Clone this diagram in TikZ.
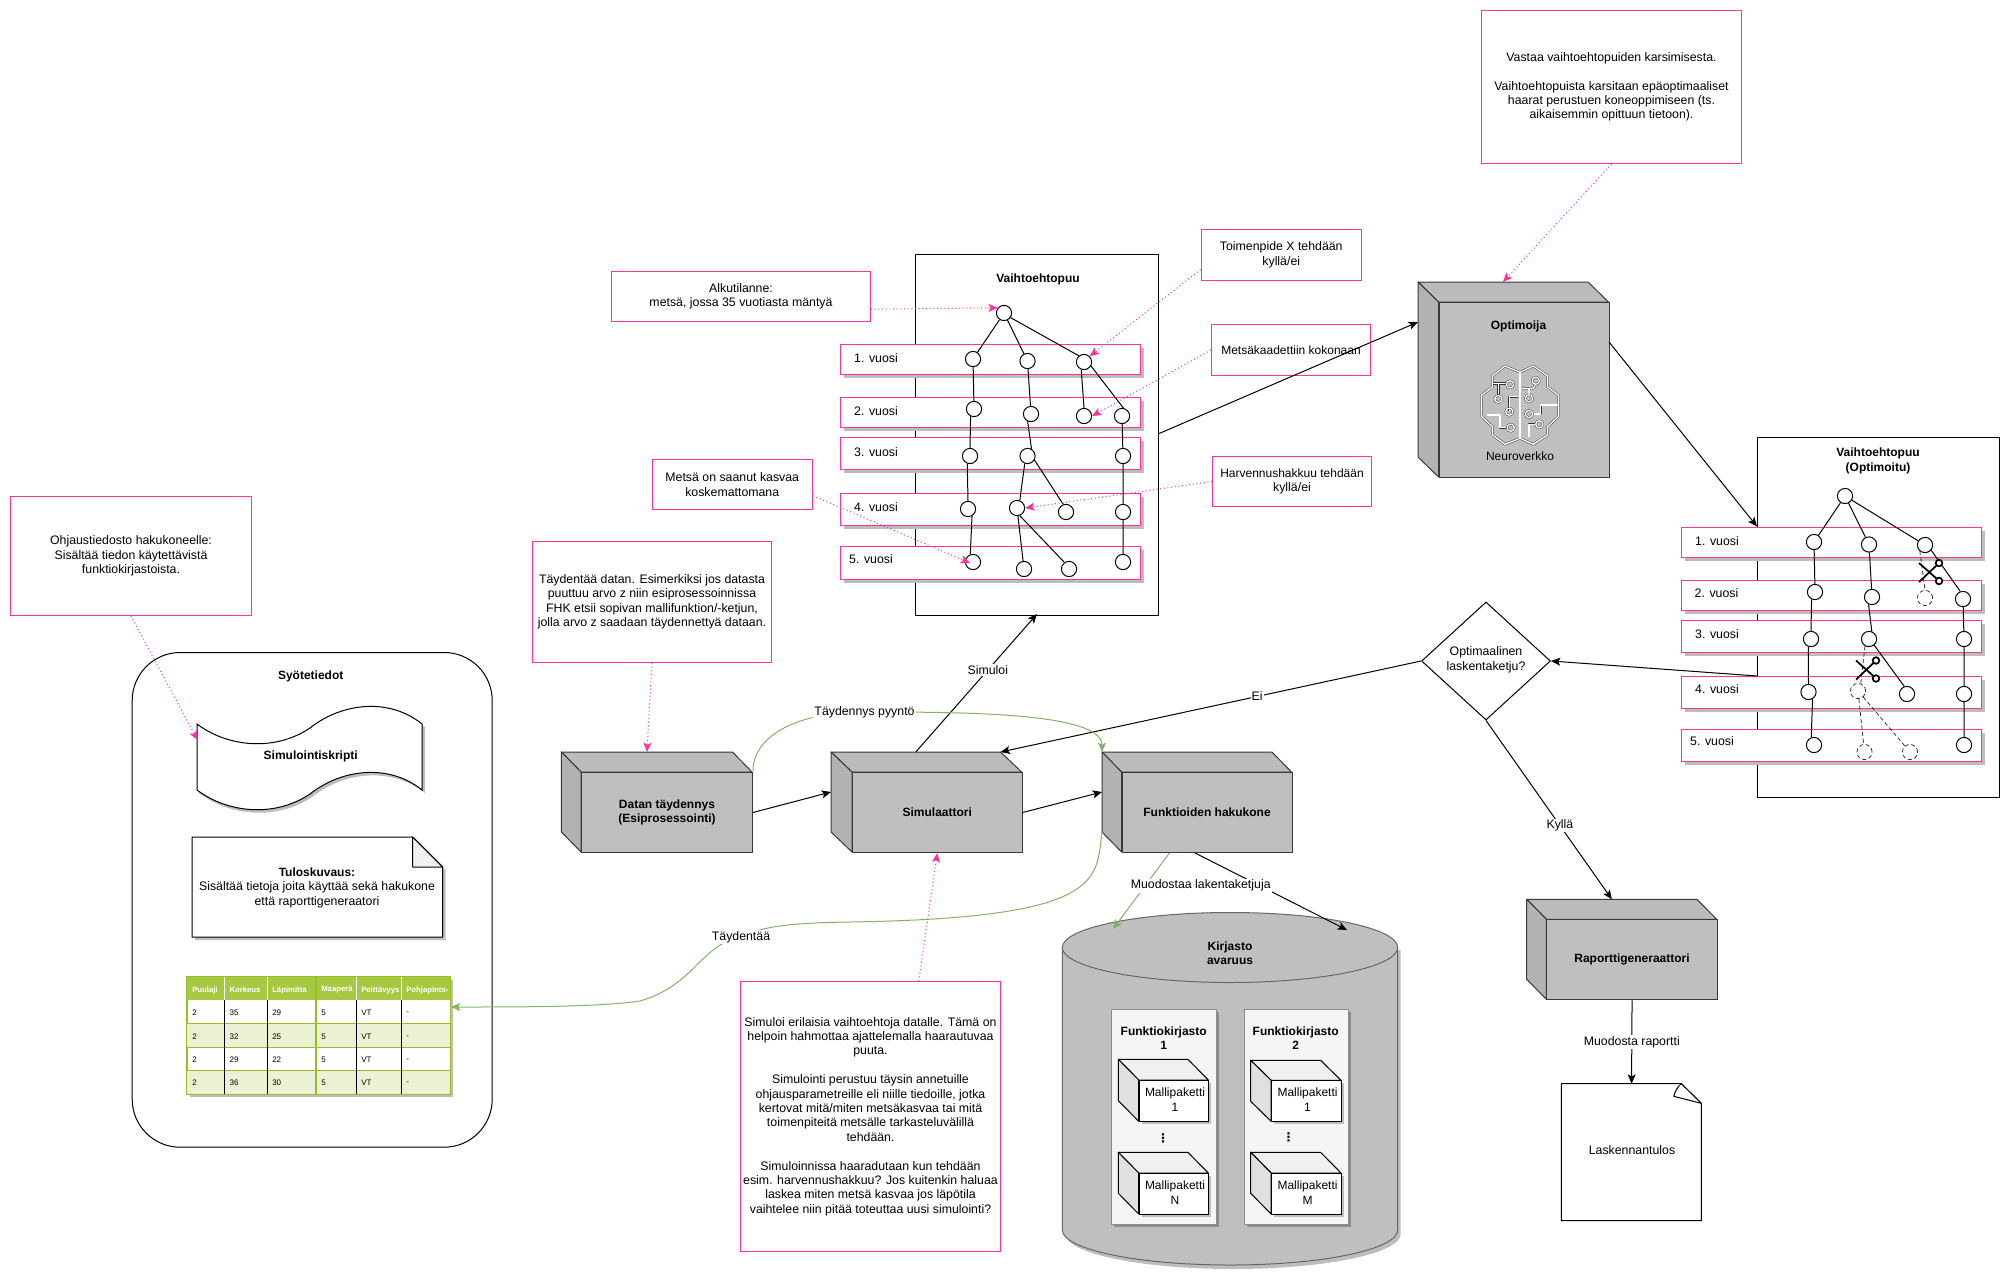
\documentclass[tikz,border=0pt]{standalone}
\usepackage{fontspec}
\setmainfont{Liberation Sans}
\usetikzlibrary{arrows.meta,shadows,calc,shapes.geometric}
\definecolor{pinkline}{HTML}{FF3399}
\definecolor{greenline}{HTML}{82B366}
\definecolor{shadowgray}{HTML}{BDBDBD}
\definecolor{cubefront}{gray}{.75}
\definecolor{cubetopc}{gray}{.735}
\definecolor{cubesidec}{gray}{.70}
\definecolor{cubeline}{HTML}{36393D}
\definecolor{tablehead}{HTML}{A7C942}
\definecolor{tableline}{HTML}{98BF21}
\definecolor{tablealt}{HTML}{EAF2D3}
\tikzset{
  txt/.style={font=\fontsize{9.25}{10.8}\selectfont,align=center,inner sep=0pt,text=black},
  btxt/.style={txt,font=\fontsize{9}{10.8}\selectfont\bfseries},
  note/.style={txt,draw=pinkline,fill=white,line width=.75pt},
  band/.style={draw=pinkline,fill=white,line width=.9pt,general shadow={fill=shadowgray,shadow xshift=2.4pt,shadow yshift=-2.4pt}},
  frame/.style={draw=black,fill=white,line width=.75pt},
  tn/.style={circle,draw=black,fill=white,line width=.75pt,minimum size=11.4pt,inner sep=0pt},
  dn/.style={tn,densely dashed,draw=black!85,line width=.55pt},
  edge/.style={draw=black,line width=.75pt},
  dedge/.style={draw=black!85,line width=.55pt,densely dashed},
  conn/.style={draw=black,line width=.75pt,-{Stealth[length=7pt,width=6pt,inset=1.6pt]}},
  gconn/.style={draw=greenline,line width=.75pt,-{Stealth[length=7pt,width=6pt,inset=1.6pt]}},
  pconn/.style={draw=pinkline,line width=.75pt,dotted,-{Stealth[length=7pt,width=6pt,inset=1.6pt]}},
  elabel/.style={txt,fill=white,inner sep=.8pt},
  cell/.style={font=\fontsize{6}{7}\selectfont,inner sep=0pt,anchor=west,text=black},
  head/.style={font=\fontsize{5.8}{7}\selectfont\bfseries,inner sep=0pt,anchor=west,text=white},
  brainline/.style={draw=black!80,line width=.35pt,double=white,double distance=1pt,line join=round},
}
\newcommand{\mkcube}[8]{%
  % #1 name, #2 x1, #3 y1, #4 x2, #5 y2, #6 dx, #7 dy, #8 text
  \filldraw[draw=cubeline,fill=cubetopc,line width=.75pt,line join=round] (#2,#3) -- ({#4-#6},#3) -- (#4,{#3+#7}) -- ({#2+#6},{#3+#7}) -- cycle;
  \filldraw[draw=cubeline,fill=cubesidec,line width=.75pt,line join=round] (#2,#3) -- ({#2+#6},{#3+#7}) -- ({#2+#6},#5) -- (#2,{#5-#7}) -- cycle;
  \node[btxt,draw=cubeline,fill=cubefront,line width=.75pt,minimum width={(#4-#2-#6)*.75pt},minimum height={(#5-#3-#7)*.75pt},anchor=north west] (#1) at ({#2+#6},{#3+#7}) {#8};
  \coordinate (#1-w) at (#2,{(#3+#5-#7)/2});
  \coordinate (#1-t) at ({(#2+#4-#6)/2},#3);
  \coordinate (#1-tl) at (#2,#3);
  \coordinate (#1-tr) at ({#4-#6},#3);
  \coordinate (#1-bl) at (#2,{#5-#7});
}
\newcommand{\mksmall}[8]{%
  \filldraw[draw=black,fill=white!94!black,line width=.75pt,line join=round] (#2,#3) -- ({#4-#6},#3) -- (#4,{#3+#7}) -- ({#2+#6},{#3+#7}) -- cycle;
  \filldraw[draw=black,fill=white!88!black,line width=.75pt,line join=round] (#2,#3) -- ({#2+#6},{#3+#7}) -- ({#2+#6},#5) -- (#2,{#5-#7}) -- cycle;
  \node[draw=black,fill=white,line width=.75pt,general shadow={fill=shadowgray,shadow xshift=1.8pt,shadow yshift=-1.8pt},minimum width={(#4-#2-#6)*.75pt},minimum height={(#5-#3-#7)*.75pt},inner sep=0pt,anchor=north west] (#1) at ({#2+#6},{#3+#7}) {};
  \node[txt,font=\fontsize{9}{10.8}\selectfont] (#1-text) at ($(#1.center)+(1,-1.5)$) {#8};
}
\newcommand{\scissorsicon}[2]{%
  \begin{scope}[shift={(#1,#2)}]
    \draw[black,line width=1.3pt] (-11,-9) -- (7,7);
    \draw[black,line width=1.3pt] (-11,10) -- (7,-7);
    \draw[black,line width=1.3pt,fill=white] (9,-9) circle[radius=3.3];
    \draw[black,line width=1.3pt,fill=white] (9,9) circle[radius=3.3];
  \end{scope}
}
\begin{document}
\begin{tikzpicture}[x=.75pt,y=-.75pt]
\useasboundingbox (0,0) rectangle (2009,1281);

% ---- Notes -----
\newcommand{\notebox}[6]{\node[note,minimum width={(#4-#2)*.75pt},minimum height={(#5-#3)*.75pt},anchor=north west] (#1) at (#2,#3) {#6};}
\notebox{vastaa}{1481}{10}{1741}{163}{Vastaa vaihtoehtopuiden karsimisesta.\\[10.8pt]Vaihtoehtopuista karsitaan epäoptimaaliset\\haarat perustuen koneoppimiseen (ts.\\aikaisemmin opittuun tietoon).}
\notebox{alku}{611}{271}{870}{321}{Alkutilanne:\\metsä, jossa 35 vuotiasta mäntyä}
\notebox{toimenpide}{1200.5}{229}{1361}{280}{Toimenpide X tehdään\\kyllä/ei}
\notebox{kaadettu}{1211}{324}{1370}{375}{\fontsize{9}{10.8}\selectfont Metsäkaadettiin kokonaan}
\notebox{harvennus}{1212}{456}{1371}{506}{\fontsize{9}{10.8}\selectfont Harvennushakkuu tehdään\\kyllä/ei}
\notebox{koskematon}{651.5}{459}{812}{509}{Metsä on saanut kasvaa\\koskemattomana}
\notebox{taydentaa}{532}{541}{771}{662}{Täydentää datan. Esimerkiksi jos datasta\\puuttuu arvo z niin esiprosessoinnissa\\FHK etsii sopivan mallifunktion/-ketjun,\\jolla arvo z saadaan täydennettyä dataan.}
\notebox{ohjaus}{10}{496}{251}{615}{Ohjaustiedosto hakukoneelle:\\Sisältää tiedon käytettävistä\\funktiokirjastoista.}
\notebox{simuloi}{740}{981}{1000}{1251}{Simuloi erilaisia vaihtoehtoja datalle. Tämä on\\helpoin hahmottaa ajattelemalla haarautuvaa\\puuta.\\[10.8pt]Simulointi perustuu täysin annetuille\\ohjausparametreille eli niille tiedoille, jotka\\kertovat mitä/miten metsäkasvaa tai mitä\\toimenpiteitä metsälle tarkasteluvälillä\\tehdään.\\[10.8pt]Simuloinnissa haaradutaan kun tehdään\\esim. harvennushakkuu? Jos kuitenkin haluaa\\laskea miten metsä kasvaa jos läpötila\\vaihtelee niin pitää toteuttaa uusi simulointi?}

% ---- Vaihtoehtopuu -----
\node[frame,minimum width={243*.75pt},minimum height={361*.75pt},anchor=north west] (puu) at (915,254) {};
\node[btxt] (puut) at (1038,279) {Vaihtoehtopuu};
\newcommand{\yearband}[5]{%
  \node[band,minimum width={(#4)*.75pt},minimum height={(#3-#2)*.75pt},anchor=north west,inner sep=0pt] (#1) at (#5,#2) {};}
\yearband{ba}{344}{374}{300}{840}
\yearband{bb}{397}{427}{300}{840}
\yearband{bc}{437}{469}{300}{840}
\yearband{bd}{493}{525}{300}{840}
\yearband{be}{546}{579}{300}{840}
\node[txt] (la) at (876,358) {1. vuosi};
\node[txt] (lb) at (876,411) {2. vuosi};
\node[txt] (lc) at (876,452) {3. vuosi};
\node[txt] (ld) at (876,507) {4. vuosi};
\node[txt] (le) at (871,559) {5. vuosi};
% tree nodes
\node[tn] (r)  at (1004,313) {};
\node[tn] (a1) at (973,359) {};
\node[tn] (a2) at (1027.5,361) {};
\node[tn] (a3) at (1084,362) {};
\node[tn] (b1) at (974,409) {};
\node[tn] (b2) at (1031,414) {};
\node[tn] (b3) at (1084,416) {};
\node[tn] (b4) at (1122,416) {};
\node[tn] (c1) at (970,456) {};
\node[tn] (c2) at (1027.5,456) {};
\node[tn] (c4) at (1123,456) {};
\node[tn] (d1) at (968,509) {};
\node[tn] (d2) at (1017,508) {};
\node[tn] (d3) at (1066,512) {};
\node[tn] (d4) at (1123,512) {};
\node[tn] (e1) at (973,562) {};
\node[tn] (e2) at (1024,569) {};
\node[tn] (e3) at (1069,569) {};
\node[tn] (e4) at (1123,562) {};
\draw[edge] (r)--(a1) (r)--(a2) (r.-35)--(a3.130) (a1)--(b1) (a2)--(b2) (a3.250)--(b3.north) (a3.-30)--(b4.80)
  (b1.245)--(c1.north) (b2.245)--(c2.60) (b4)--(c4) (c1.250)--(d1.north) (c2.250)--(d2.70) (c2.-30)--(d3.110) (c4)--(d4)
  (d1.-60)--(e1.110) (d2)--(e2) (d2.-70)--(e3.125) (d4)--(e4);

% ---- Optimoitu puu -----
\node[frame,minimum width={241.5*.75pt},minimum height={360*.75pt},anchor=north west] (opu) at (1757,437) {};
\node[btxt] (oput) at (1878,461) {Vaihtoehtopuu\\(Optimoitu)};
\yearband{oa}{527}{557}{300}{1681}
\yearband{ob}{580}{610}{300}{1681}
\yearband{oc}{620}{652}{300}{1681}
\yearband{od}{676}{708}{300}{1681}
\yearband{oe}{729}{761}{300}{1681}
\node[txt] (ola) at (1717,541) {1. vuosi};
\node[txt] (olb) at (1716.5,593) {2. vuosi};
\node[txt] (olc) at (1717,634) {3. vuosi};
\node[txt] (old) at (1717,689) {4. vuosi};
\node[txt] (ole) at (1712,741) {5. vuosi};
\node[tn] (pr)  at (1845,496) {};
\node[tn] (pa1) at (1814,542) {};
\node[tn] (pa2) at (1869,544.5) {};
\node[tn] (pa3) at (1925,545) {};
\node[tn] (pb1) at (1815,592) {};
\node[tn] (pb2) at (1872,597) {};
\node[dn] (pb3) at (1925,598) {};
\node[tn] (pb4) at (1963,599) {};
\node[tn] (pc1) at (1811,639) {};
\node[tn] (pc2) at (1869,639) {};
\node[tn] (pc4) at (1964,639) {};
\node[tn] (pd1) at (1808.5,692) {};
\node[dn] (pd2) at (1858,691) {};
\node[tn] (pd3) at (1907,694) {};
\node[tn] (pd4) at (1964,694) {};
\node[tn] (pe1) at (1814,745) {};
\node[dn] (pe2) at (1864.5,752) {};
\node[dn] (pe3) at (1910,752) {};
\node[tn] (pe4) at (1964,745) {};
\draw[edge] (pr)--(pa1) (pr)--(pa2) (pr)--(pa3) (pa1)--(pb1) (pa2)--(pb2) (pa3.-40)--(pb4.110)
  (pb1.245)--(pc1.north) (pb2.245)--(pc2.70) (pb4)--(pc4) (pc1.250)--(pd1.north) (pc2.-50)--(pd3.110) (pc4)--(pd4)
  (pd1.-60)--(pe1.110) (pd4)--(pe4);
\draw[dedge] (pa3.230)--(pb3.north) (pc2.240)--(pd2.70) (pd2)--(pe2) (pd2)--(pe3);
\scissorsicon{1930}{572}
\scissorsicon{1867}{669.5}

% ---- Cubes -----
\mkcube{opt}{1418}{282}{1608.5}{477}{20.5}{20}{}
\node[btxt] (optt) at (1518.5,326.5) {Optimoija};
\node[txt,font=\fontsize{9}{10.8}\selectfont] (optn) at (1520,456) {Neuroverkko};
\begin{scope}[shift={(1520,405)}]
  \draw[brainline] (0,-32.7) -- (-15,-39) -- (-27.3,-29.3) -- (-27.3,-18.3) -- (-38.3,-10) -- (-38.3,11.7) -- (-27.3,21.7) -- (-27.3,30) -- (-15,39.3) -- (0,33.3) -- (13.3,39.3) -- (27.3,30) -- (27.3,21.7) -- (38.3,11.7) -- (38.3,-10) -- (27.3,-18.3) -- (27.3,-29.3) -- (13.3,-39) -- cycle;
  \draw[brainline] (0,-32.7) -- (0,33.3);
  \draw[brainline] (-27,-21.5) -- (-12,-21.5);
  \draw[brainline] (-21.5,-21.5) -- (-21.5,-10);
  \draw[brainline] (-10.7,6) -- (-10.7,-8.3) -- (-2,-8.3);
  \draw[brainline] (-33,10) -- (-20,10) -- (-20,22.7) -- (-12,22.7);
  \draw[brainline] (15.5,-20) -- (13.3,-16.7) -- (2,-16.7);
  \draw[brainline] (9,-16.7) -- (9,-10);
  \draw[brainline] (12,9) -- (20.7,9) -- (20.7,0) -- (37.5,0);
  \draw[brainline] (15,19.3) -- (9,19.3) -- (9,32);
  \foreach \cx/\cy in {-10/-20.7,-21.7/-6,-10.7/6.7,-9.3/22.7,15.7/-24.3,9/-6.7,9/9,19.3/19.3}
    \draw[brainline] (\cx,\cy) circle[radius=3.6];
\end{scope}

\mkcube{dat}{561.4}{752}{752}{852}{19.6}{20}{Datan täydennys\\(Esiprosessointi)}
\mkcube{sim}{831}{752}{1021.6}{852}{21}{20}{Simulaattori}
\mkcube{fun}{1102}{752}{1291.5}{852}{19.6}{20}{Funktioiden hakukone}
\mkcube{rap}{1526.7}{899.3}{1716.7}{999.3}{19.7}{20}{Raporttigeneraattori}

% ---- Diamond -----
\node[diamond,txt,draw=black,fill=white,line width=.75pt,minimum width={129*.75pt},minimum height={118*.75pt},inner sep=0pt,aspect=1.09] (dia) at (1486,661) {};
\node[txt] (diat) at (1486,660) {Optimaalinen\\laskentaketju?};

% ---- Document Laskennantulos -----
\filldraw[frame,line join=round] (1561.3,1083.7) -- (1681.3,1083.7) -- (1701.3,1103.3) -- (1701.3,1220.7) -- (1561.3,1220.7) -- cycle;
\filldraw[draw=black,fill=white,line width=.75pt,line join=round] (1681.3,1083.7) .. controls (1677,1087) and (1675,1092) .. (1673.7,1096.3) -- (1701.3,1103.3) -- cycle;
\node[txt] (las) at (1632,1150.3) {Laskennantulos};
\coordinate (lastop) at (1631.55,1083.7);

% ---- Library cylinder -----
\fill[shadowgray] (1065.3,950) -- (1400.7,950) -- (1400.7,1234) arc[start angle=360,end angle=180,x radius=167.7,y radius=-35] -- cycle;
\filldraw[fill=cubefront,draw=black!60,line width=.75pt] (1062.3,947.5) -- (1062.3,1230) arc[start angle=180,end angle=360,x radius=167.7,y radius=-35] -- (1397.7,947.5) arc[start angle=0,end angle=180,x radius=167.7,y radius=-35] -- cycle;
\draw[draw=black!60,line width=.75pt] (1062.3,947.5) arc[start angle=180,end angle=360,x radius=167.7,y radius=-35];
\node[btxt,minimum width={335*.75pt}] (kir) at (1230,953) {Kirjasto\\avaruus};

\node[draw=black!45,fill=white!96!black,line width=.75pt,general shadow={fill=black!45,shadow xshift=1.8pt,shadow yshift=-1.8pt},minimum width={104.4*.75pt},minimum height={215.3*.75pt},anchor=north west] (fk1) at (1111.3,1008.7) {};
\node[draw=black!45,fill=white!96!black,line width=.75pt,general shadow={fill=black!45,shadow xshift=1.8pt,shadow yshift=-1.8pt},minimum width={104.3*.75pt},minimum height={215.3*.75pt},anchor=north west] (fk2) at (1243.7,1008.7) {};
\node[btxt] (fk1t) at (1163.7,1038) {Funktiokirjasto\\1};
\node[btxt] (fk2t) at (1295.7,1038) {Funktiokirjasto\\2};
\mksmall{m11}{1118.3}{1059.3}{1208.3}{1121.3}{20.4}{20.7}{Mallipaketti\\1}
\mksmall{m1n}{1118.3}{1152.3}{1208.3}{1214}{20.4}{20.7}{Mallipaketti\\N}
\mksmall{m21}{1250.7}{1060.3}{1341}{1121.3}{20.4}{20}{Mallipaketti\\1}
\mksmall{m2m}{1250.7}{1152.3}{1341}{1214}{20.4}{20.7}{Mallipaketti\\M}
\node[font=\fontspec{DejaVu Sans}\fontsize{9}{10}\selectfont\bfseries,inner sep=0pt] (vd1) at (1163,1138) {⋮};
\node[font=\fontspec{DejaVu Sans}\fontsize{9}{10}\selectfont\bfseries,inner sep=0pt] (vd2) at (1288.7,1137) {⋮};

% ---- Syotetiedot -----
\node[draw=black,fill=white,line width=.75pt,rounded corners=36pt,minimum width={360*.75pt},minimum height={494.7*.75pt},anchor=north west] (syo) at (131.7,652) {};
\node[btxt] (syot) at (310.7,676.5) {Syötetiedot};
\fill[shadowgray] (199,727) .. controls (231,751) and (278,754) .. (312,731) .. controls (345,705) and (392,701) .. (425,727) -- (425,793) .. controls (392,767) and (345,771) .. (312,797) .. controls (278,820) and (231,817) .. (199,793) -- cycle;
\filldraw[frame] (197,724) .. controls (229,748) and (276,751) .. (310,728) .. controls (343,702) and (390,698) .. (422,724) -- (422,790) .. controls (390,764) and (343,768) .. (310,794) .. controls (276,817) and (229,814) .. (197,790) -- cycle;
\node[btxt] (skr) at (310.7,756.5) {Simulointiskripti};
\fill[shadowgray] (195,840) -- (415.7,840) -- (445.7,870) -- (445.7,940) -- (195,940) -- cycle;
\filldraw[frame,line join=round] (192,837) -- (412.7,837) -- (442.7,867) -- (442.7,937) -- (192,937) -- cycle;
\filldraw[draw=black,fill=white!94!black,line width=.75pt,line join=round] (412.7,837) -- (412.7,867) -- (442.7,867) -- cycle;
\node[txt,minimum width={250*.75pt},anchor=north] (tul) at (317,867.5) {\textbf{\fontsize{9}{10.8}\selectfont Tuloskuvaus:}\\Sisältää tietoja joita käyttää sekä hakukone\\että raporttigeneraatori};
% table
\node[fill=shadowgray,minimum width={263.3*.75pt},minimum height={117.3*.75pt},inner sep=0pt,anchor=north west] (tabs) at (189.7,979.7) {};
\node[fill=white,draw=tableline,line width=.7pt,minimum width={263.3*.75pt},minimum height={117.3*.75pt},inner sep=0pt,anchor=north west] (tab) at (186.7,976.7) {};
\fill[tablehead] (186.7,976.7) rectangle (450,1000.3);
\fill[tablealt] (186.7,1023.3) rectangle (450,1047.3);
\fill[tablealt] (186.7,1070.3) rectangle (450,1094);
\foreach \yy in {1023.3,1047.3,1070.3} \draw[tableline,line width=.6pt] (186.7,\yy)--(450,\yy);
\foreach \xx in {224.3,267.3,356.3,401.3} {\draw[white,line width=.6pt] (\xx,977)--(\xx,1000.3); \draw[black,line width=.6pt] (\xx,1000.3)--(\xx,1094);}
\draw[tableline,line width=.7pt] (186.7,976.7) rectangle (450,1094);
\draw[white,line width=.6pt] (315.8,977)--(315.8,1094);
\draw[tableline,line width=.6pt] (315,977)--(315,1094) (316.7,977)--(316.7,1094);
\foreach \xx/\tt in {192/Puulaji,229.3/Korkeus,272/Läpimitta,321/Maaperä,361/Peittävyys,406/Pohjapinta-} \node[head] at (\xx,990) {\tt};
\foreach \yy/\aa/\bb in {1013/35/29,1037/32/25,1060/29/22,1083/36/30} {
  \node[cell] at (192,\yy) {2}; \node[cell] at (229.3,\yy) {\aa}; \node[cell] at (272,\yy) {\bb};
  \node[cell] at (321,\yy) {5}; \node[cell] at (361,\yy) {VT}; \node[cell] at (406,\yy) {-};}

% ---- Connectors -----
\coordinate (optin) at (1418,322);
\coordinate (optout) at (1609,342);
\coordinate (puuout) at (1158,434);
\coordinate (puuin) at (1037,614);
\coordinate (opuin) at (1757,526.5);
\coordinate (opuout) at (1757,676);
\coordinate (kirin) at (1347,930);
\coordinate (kirg) at (1113,929);
\coordinate (tabin) at (451,1007);
\coordinate (skrin) at (197.5,740);

\draw[conn] (puuout) -- (optin);
\draw[conn] (optout) -- (opuin);
\draw[conn] (opuout) -- (dia.east);
\draw[conn] (dia.west) -- node[elabel,pos=.39] {Ei} (sim-tr);
\draw[conn] (dia.south) -- node[elabel,pos=.587] {Kyllä} (rap-t);
\draw[conn] (rap.south) -- node[elabel] {Muodosta raportti} (lastop);
\draw[conn] (dat.east) -- (sim-w);
\draw[conn] (sim.east) -- (fun-w);
\draw[conn] (sim-t) -- node[elabel,pos=.594] {Simuloi} (puuin);
\draw[conn] ($(fun.south west)!.43!(fun.south east)$) -- (kirin);

\draw[gconn] (dat.north east) .. controls (752,740) and (790,712) .. (864,712) .. controls (960,712) and (1102,712) .. (fun-tl);
\node[elabel] (tp) at (864.5,712) {Täydennys pyyntö};
\draw[gconn] (fun-bl) .. controls (1096,880) and (1105,918) .. (850,922) .. controls (780,923) and (760,928) .. (741,937) .. controls (700,945) and (695,985) .. (640,1001) .. controls (600,1007) and (520,1007) .. (tabin);
\node[elabel] (tt) at (741,937) {Täydentää};
\draw[gconn] ($(fun.south west)!.28!(fun.south east)$) -- (kirg);
\node[elabel] (ml) at (1200.7,885.7) {Muodostaa lakentaketjuja};

\draw[pconn] ($(alku.north east)!.75!(alku.south east)$) -- (r.140);
\draw[pconn] ($(toimenpide.north west)!.78!(toimenpide.south west)$) -- (a3.45);
\draw[pconn] (kaadettu.west) -- (b3.east);
\draw[pconn] (harvennus.west) -- (d2.east);
\draw[pconn] ($(koskematon.north east)!.72!(koskematon.south east)$) -- ($(e1.center)+(-3,1)$);
\draw[pconn] (taydentaa.south) -- (dat-t);
\draw[pconn] ($(simuloi.north west)!.685!(simuloi.north east)$) -- (sim.south);
\draw[pconn] (ohjaus.south) -- (skrin);
\draw[pconn] (vastaa.south) -- (opt-t);
\end{tikzpicture}
\end{document}
